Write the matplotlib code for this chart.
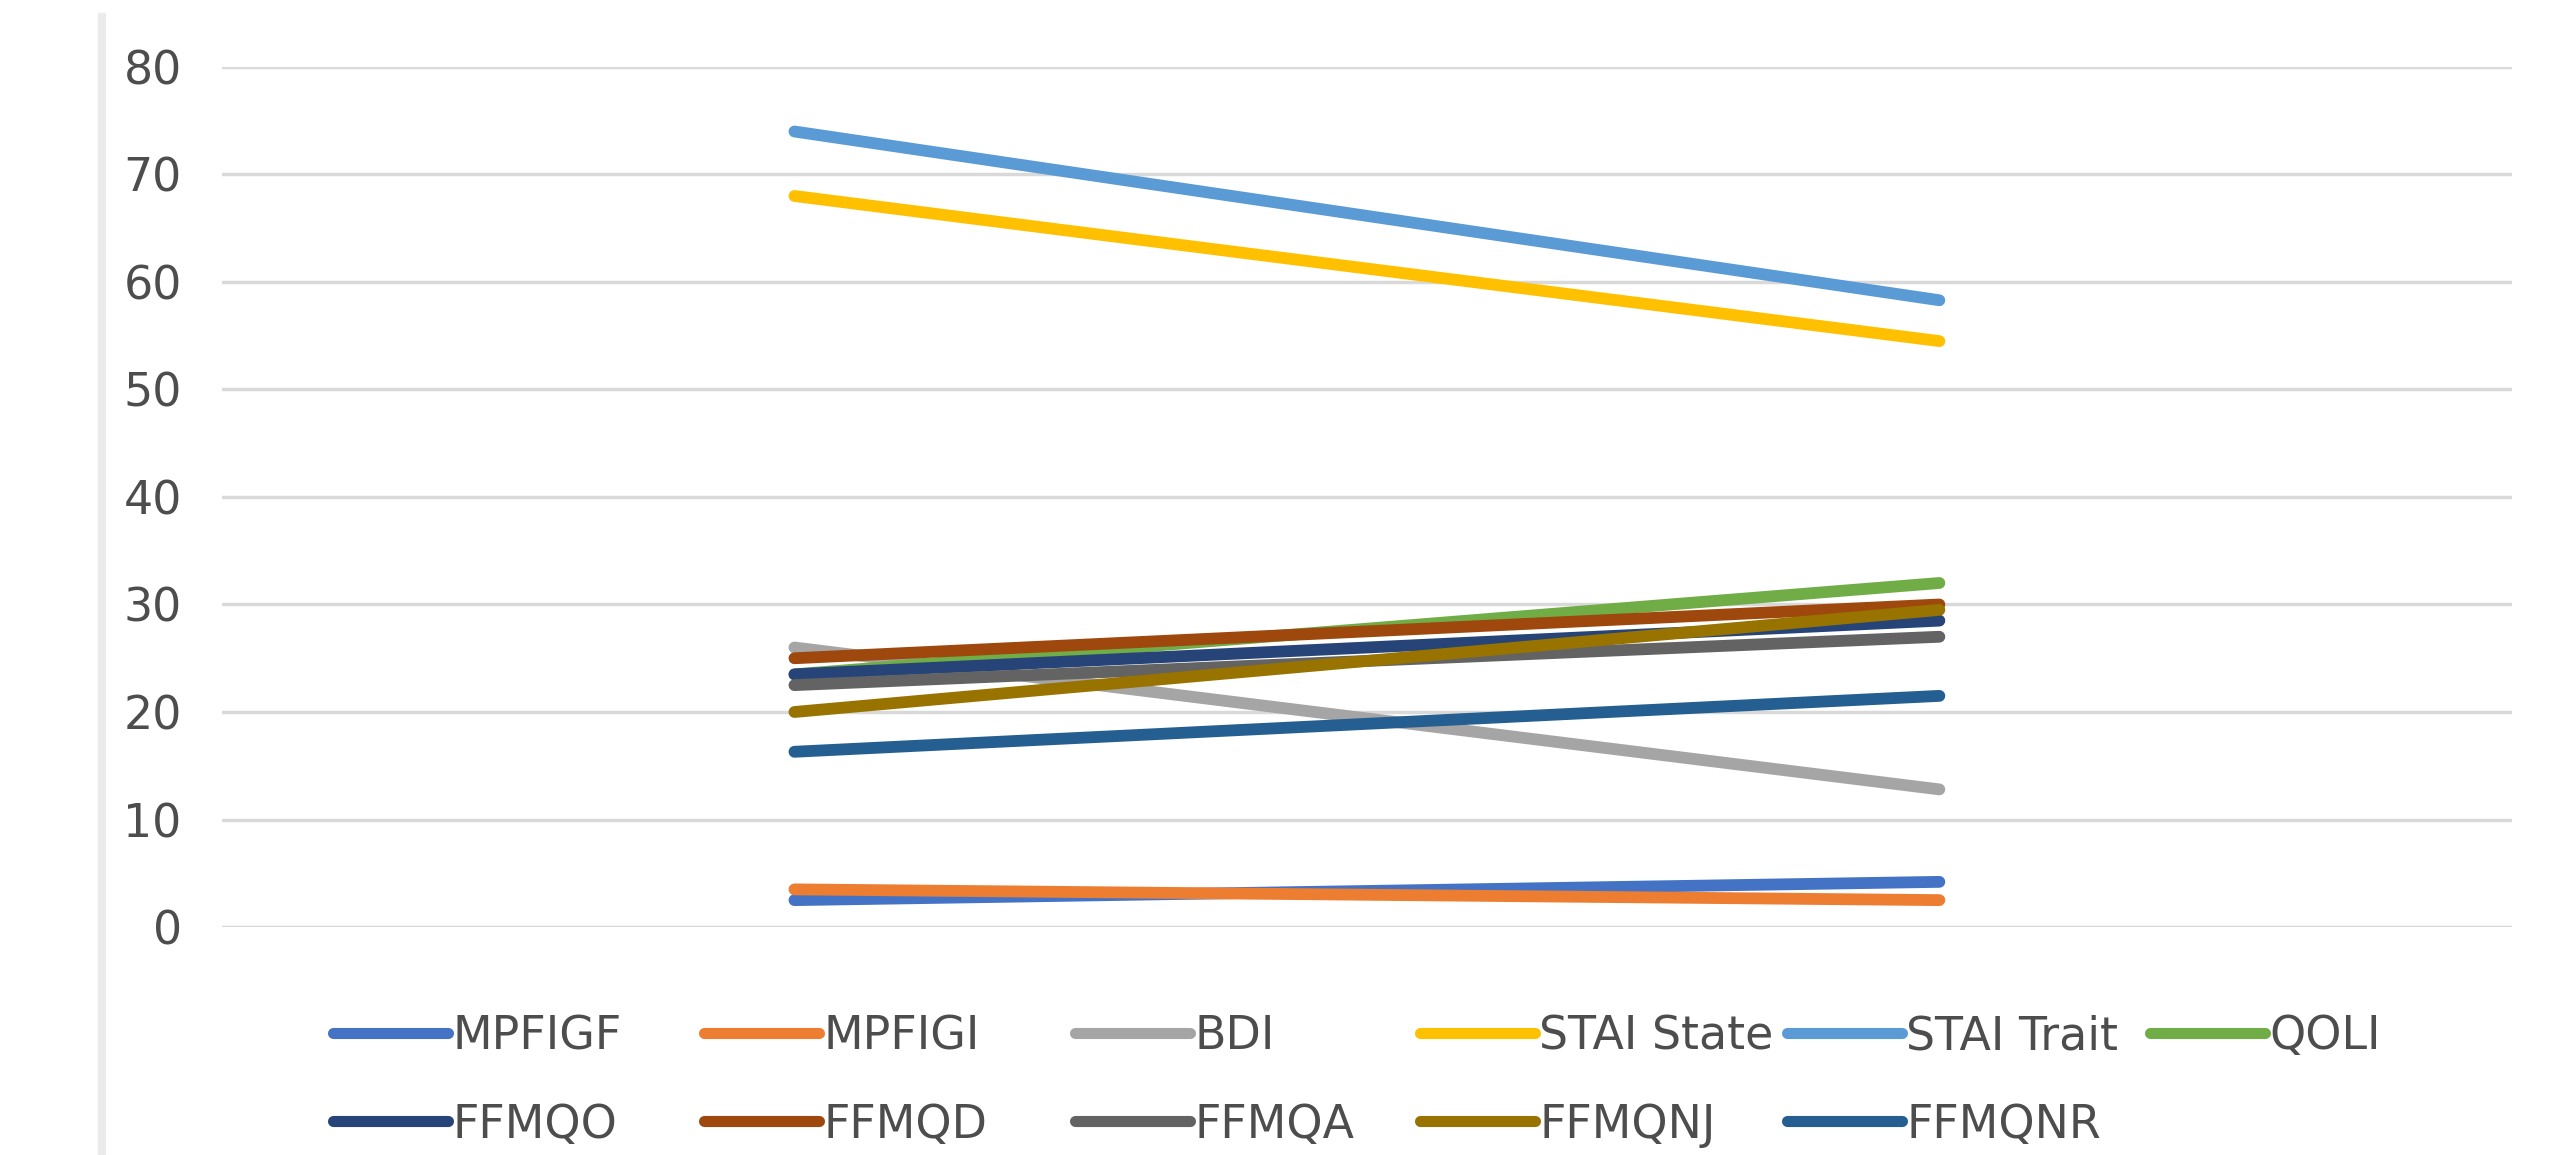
import matplotlib.pyplot as plt
from matplotlib.lines import Line2D

# two time points (category labels are not shown in the chart)
categories = ["Pre", "Post"]

series_names = [
    "MPFIGF", "MPFIGI", "BDI", "STAI State", "STAI Trait", "QOLI",
    "FFMQO", "FFMQD", "FFMQA", "FFMQNJ", "FFMQNR",
]
pre_values = [2.5, 3.5, 26.0, 68.0, 74.0, 23.5, 23.5, 25.0, 22.5, 20.0, 16.3]
post_values = [4.2, 2.5, 12.8, 54.5, 58.3, 32.0, 28.5, 30.0, 27.0, 29.5, 21.5]

colors = [
    "#4472C4", "#ED7D31", "#A5A5A5", "#FFC000", "#5B9BD5", "#70AD47",
    "#264478", "#9E480E", "#636363", "#997300", "#255E91",
]

y_ticks = [0, 10, 20, 30, 40, 50, 60, 70, 80]

TEXT_GRAY = "#4d4d4d"
W, H = 2554, 1155

fig = plt.figure(figsize=(W / 100, H / 100), dpi=100)
ax = fig.add_axes([0.0869, 0.1974, 0.8966, 0.7446])

handles = []
for name, pre, post, color in zip(series_names, pre_values, post_values, colors):
    (line,) = ax.plot(categories, [pre, post], color=color, lw=8.5,
                      solid_capstyle="round", label=name)
    handles.append(line)

ax.set_xlim(-0.5, 1.5)
ax.set_ylim(0, 80)
ax.set_yticks(y_ticks)
ax.yaxis.grid(True, color="#d9d9d9", lw=2.5)
ax.set_axisbelow(True)
ax.tick_params(axis="y", length=0, pad=29, labelsize=33, labelcolor=TEXT_GRAY)
ax.tick_params(axis="x", length=0, labelbottom=False)
for spine in ax.spines.values():
    spine.set_visible(False)

# Excel lays the legend out in equal-width columns; one small legend per column
col_left_px = [333, 704, 1075, 1420, 1787, 2150]
n_cols = len(col_left_px)
for c, x_px in enumerate(col_left_px):
    idx = [i for i in (c, c + n_cols) if i < len(series_names)]
    leg = fig.legend([handles[i] for i in idx], [series_names[i] for i in idx],
                     loc="upper left", bbox_to_anchor=(x_px / W, 1 - 1014 / H),
                     frameon=False, fontsize=33, handlelength=2.5,
                     handletextpad=0.1, labelspacing=0.95,
                     borderpad=0, borderaxespad=0)
    for txt in leg.get_texts():
        txt.set_color(TEXT_GRAY)
    for lh in leg.get_lines():
        lh.set_linewidth(8)

# faint border on the left edge of the picture
fig.add_artist(Line2D([0.040, 0.040], [0, 0.985], color="#ebebeb", lw=6))

fig.savefig("out.png", dpi=100)
